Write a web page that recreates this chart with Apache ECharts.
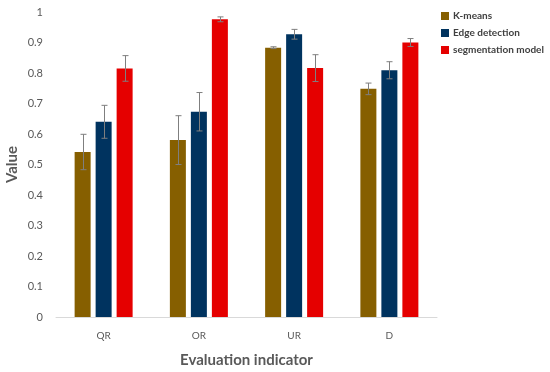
<!DOCTYPE html>
<html><head><meta charset="utf-8">
<script src="https://cdn.jsdelivr.net/npm/echarts@6/dist/echarts.min.js"></script>
<style>html,body{margin:0;padding:0;background:#fff}#c{width:550px;height:372px}</style>
</head><body><div id="c"></div>
<script>
const categories = ['QR', 'OR', 'UR', 'D'];
const seriesNames = ['K-means', 'Edge detection', 'segmentation model'];
const kmeans = [0.541, 0.580, 0.883, 0.748];
const edge = [0.640, 0.673, 0.927, 0.809];
const seg = [0.815, 0.976, 0.816, 0.900];
const kmeansErr = [0.058, 0.080, 0.003, 0.019];
const edgeErr = [0.054, 0.063, 0.016, 0.028];
const segErr = [0.042, 0.008, 0.044, 0.013];
const yTicks = [0, 0.1, 0.2, 0.3, 0.4, 0.5, 0.6, 0.7, 0.8, 0.9, 1];

const colors = ['#865F00', '#00335F', '#E50000'];
const values = [kmeans, edge, seg];
const errs = [kmeansErr, edgeErr, segErr];
const BW = 16, GAP = 5;

const chart = echarts.init(document.getElementById('c'));
const series = [];
values.forEach((vals, i) => {
  series.push({
    name: seriesNames[i], type: 'bar', data: vals, barWidth: BW, barGap: (GAP / BW * 100) + '%',
    itemStyle: { color: colors[i] }, z: 2
  });
});
values.forEach((vals, i) => {
  series.push({
    type: 'custom', name: 'err' + i, z: 5, silent: true,
    data: vals.map((v, j) => [j, v - errs[i][j], v + errs[i][j]]),
    renderItem: function (params, api) {
      const off = (i - 1) * (BW + GAP);
      const lo = api.coord([api.value(0), api.value(1)]);
      const hi = api.coord([api.value(0), api.value(2)]);
      const x = Math.round(lo[0] + off) + 0.5;
      const st = { stroke: '#7f7f7f', lineWidth: 1 };
      return { type: 'group', children: [
        { type: 'line', shape: { x1: x, y1: lo[1], x2: x, y2: hi[1] }, style: st },
        { type: 'line', shape: { x1: x - 3, y1: lo[1], x2: x + 3, y2: lo[1] }, style: st },
        { type: 'line', shape: { x1: x - 3, y1: hi[1], x2: x + 3, y2: hi[1] }, style: st }
      ]};
    }
  });
});

chart.setOption({
  animation: false,
  textStyle: { fontFamily: 'Lato' },
  grid: { left: 56, right: 113, top: 12, bottom: 55, containLabel: false, outerBoundsMode: 'none' },
  legend: {
    data: seriesNames, orient: 'vertical', left: 441, top: 11, itemWidth: 8, itemHeight: 8,
    itemGap: 7, icon: 'rect', padding: 0,
    textStyle: { color: '#404040', fontSize: 10, fontWeight: 'bold', fontFamily: 'Lato', padding: [0, 0, 0, -1] }
  },
  xAxis: {
    type: 'category', data: categories,
    name: 'Evaluation indicator', nameLocation: 'middle', nameGap: 36, nameMoveOverlap: false,
    nameTextStyle: { color: '#595959', fontSize: 15, fontWeight: 'bold', fontFamily: 'Lato' },
    axisLine: { lineStyle: { color: '#d9d9d9', width: 1 } },
    axisTick: { show: false },
    axisLabel: { color: '#595959', fontSize: 10, margin: 14, fontFamily: 'Lato' }
  },
  yAxis: {
    type: 'value', min: yTicks[0], max: yTicks[yTicks.length - 1], interval: 0.1,
    name: 'Value', nameLocation: 'middle', nameGap: 36, nameMoveOverlap: false,
    nameTextStyle: { color: '#595959', fontSize: 15, fontWeight: 'bold', fontFamily: 'Lato' },
    axisLine: { show: false }, axisTick: { show: false }, splitLine: { show: false },
    axisLabel: { color: '#595959', fontSize: 11, margin: 13, fontFamily: 'Lato',
      formatter: v => String(Math.round(v * 10) / 10) }
  },
  series: series
});
</script></body></html>
